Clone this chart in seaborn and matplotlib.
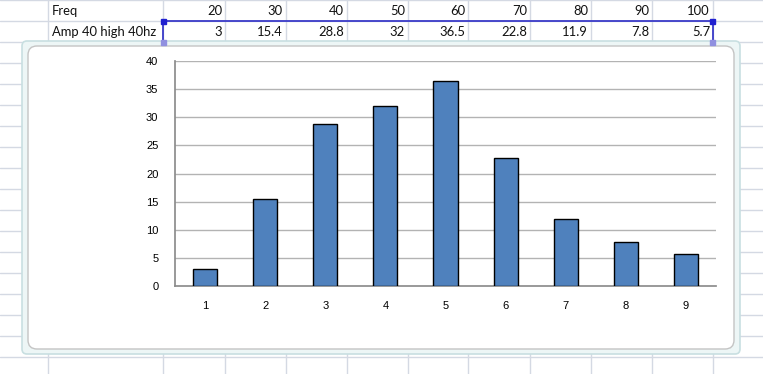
import numpy as np
import pandas as pd
import matplotlib
matplotlib.use("Agg")
import matplotlib.pyplot as plt
from matplotlib.patches import FancyBboxPatch, Rectangle
import seaborn as sns

# data from the sheet
row_labels = ["Freq", "Amp 40 high 40hz"]
freq = [20, 30, 40, 50, 60, 70, 80, 90, 100]
amp = [3, 15.4, 28.8, 32, 36.5, 22.8, 11.9, 7.8, 5.7]
amp_text = ["3", "15.4", "28.8", "32", "36.5", "22.8", "11.9", "7.8", "5.7"]
categories = [str(i) for i in range(1, len(amp) + 1)]
y_ticks = [0, 5, 10, 15, 20, 25, 30, 35, 40]

W, H = 763, 374
sns.set_theme(style="white")
plt.rcParams["font.family"] = ["Liberation Sans", "DejaVu Sans"]

fig = plt.figure(figsize=(W / 100, H / 100), dpi=100)

# spreadsheet background, pixel coordinates
bg = fig.add_axes([0, 0, 1, 1])
bg.set_xlim(0, W)
bg.set_ylim(H, 0)
bg.axis("off")
grid_col = "#d4d9e3"
col_edges = [48, 163, 225, 286, 347, 408, 468, 530, 591, 652, 713]
for x in col_edges:
    bg.plot([x, x], [0, H], color=grid_col, lw=1)
for y in np.arange(0, H + 21, 21):
    bg.plot([0, W], [y, y], color=grid_col, lw=1)

# row text
cell_font = dict(fontsize=9.4, family=["Lato", "DejaVu Sans"], color="#111111")
for r, lab in enumerate(row_labels):
    bg.text(52, 11 + 21 * r, lab, ha="left", va="center", **cell_font)
for i in range(len(freq)):
    xr = col_edges[i + 2] - 3
    bg.text(xr, 11, str(freq[i]), ha="right", va="center", **cell_font)
    bg.text(xr, 32, amp_text[i], ha="right", va="center", **cell_font)

# selection box around the data range
sel = "#3a3ac8"
bg.plot([163, 713], [21, 21], color=sel, lw=1.3)
bg.plot([163, 713], [42, 42], color="#8c8ce0", lw=1.3)
bg.plot([163, 163], [21, 42], color=sel, lw=1.3)
bg.plot([713, 713], [21, 42], color=sel, lw=1.3)
bg.add_patch(Rectangle((161, 19), 5, 5, color="#2020d0", zorder=5))
bg.add_patch(Rectangle((710, 19), 5, 5, color="#2020d0", zorder=5))
bg.add_patch(Rectangle((161, 40), 5, 5, color="#9090e0", zorder=5))
bg.add_patch(Rectangle((710, 40), 5, 5, color="#9090e0", zorder=5))

# chart frame
bg.add_patch(FancyBboxPatch((22, 41), 718, 313, boxstyle="round,pad=0,rounding_size=5",
                            facecolor="#edf6f6", edgecolor="#c8dfe1", lw=1.2, zorder=3))
bg.add_patch(FancyBboxPatch((28, 46), 706, 303, boxstyle="round,pad=0,rounding_size=9",
                            facecolor="white", edgecolor="#c4c4c4", lw=1, zorder=4))

# bar chart
ax = fig.add_axes([175 / W, 1 - 286 / H, (716 - 175) / W, (286 - 61) / H])
df = pd.DataFrame({"cat": categories, "amp": amp})
sns.barplot(data=df, x="cat", y="amp", ax=ax, color="#4f81bd", saturation=1,
            width=0.4, edgecolor="black", linewidth=1, zorder=3)
ax.set_ylim(0, 40)
ax.set_xlim(-0.5, len(amp) - 0.5)
ax.set_yticks(y_ticks)
ax.set_yticklabels([str(t) for t in y_ticks])
for t in y_ticks[1:]:
    ax.axhline(t, color="#b3b3b3", lw=1, zorder=1)
ax.set_xlabel("")
ax.set_ylabel("")
ax.tick_params(axis="both", length=0, labelsize=8, colors="black")
ax.tick_params(axis="x", pad=11)
ax.tick_params(axis="y", pad=12)
for s in ["top", "right"]:
    ax.spines[s].set_visible(False)
ax.spines["left"].set_color("#8c8c8c")
ax.spines["bottom"].set_color("#8c8c8c")
ax.patch.set_alpha(0)

fig.savefig("out.png", dpi=100)
